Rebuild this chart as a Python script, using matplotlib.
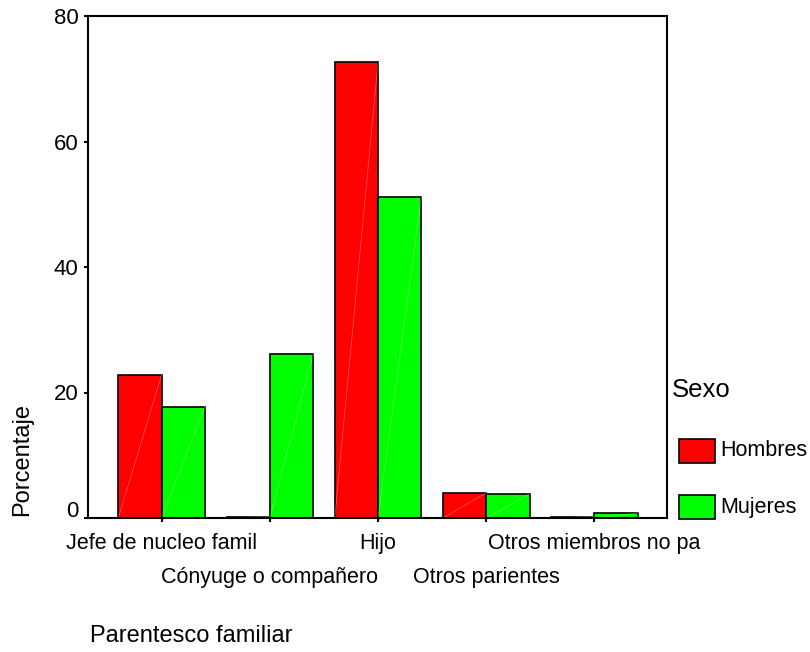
import numpy as np
import matplotlib
matplotlib.use("Agg")
import matplotlib.pyplot as plt
import matplotlib.transforms as mtransforms
from matplotlib.patches import Rectangle

plt.rcParams['font.family'] = ['Liberation Sans', 'DejaVu Sans']

# data
categorias = ["Jefe de nucleo famil", "Cónyuge o compañero", "Hijo",
              "Otros parientes", "Otros miembros no pa"]
hombres = [22.8, 0.2, 72.6, 4.0, 0.2]
mujeres = [17.7, 26.1, 51.2, 3.8, 0.8]
series = ["Hombres", "Mujeres"]
colores = ["#ff0000", "#00ff00"]
yticks = [0, 20, 40, 60, 80]

W, H = 810, 652
fig = plt.figure(figsize=(W / 100, H / 100), dpi=100)
ax = fig.add_axes([88 / W, (H - 518) / H, 579 / W, 502 / H])

x = np.arange(len(categorias))
ancho = 0.4
for i, (vals, col) in enumerate(zip([hombres, mujeres], colores)):
    b = ax.bar(x - ancho / 2 + i * ancho, vals, width=ancho, color=col,
               edgecolor='black', linewidth=1.2, label=series[i])
    # faint diagonal seam seen in the original bars
    for r in b:
        x0, y0 = r.get_x(), r.get_y()
        ax.plot([x0, x0 + r.get_width()], [y0, y0 + r.get_height()],
                color='white', alpha=0.3, linewidth=0.6)

ax.set_xlim(-0.68, 4.67)
ax.set_ylim(0, 80)
ax.set_yticks(yticks)
ax.set_yticklabels([str(v) for v in yticks], fontsize=16)
ax.set_xticks(x)
ax.set_xticklabels(categorias, fontsize=15.5)
for i, t in enumerate(ax.xaxis.get_major_ticks()):
    t.set_pad(8 if i % 2 == 0 else 32)
ax.tick_params(axis='both', direction='out', length=3, width=1.5, colors='black')
ax.tick_params(axis='y', pad=4)
for s in ax.spines.values():
    s.set_linewidth(1.5)
    s.set_color('black')

# the "0" label sits a little above its tick in the original
fig.canvas.draw()
lbl0 = ax.get_yticklabels()[0]
lbl0.set_transform(lbl0.get_transform() +
                   mtransforms.ScaledTranslation(0, 9 / 100, fig.dpi_scale_trans))

fig.text(22 / W, 1 - 460 / H, "Porcentaje", rotation=90, ha='center', va='center', fontsize=17)
fig.text(90 / W, 1 - 636 / H, "Parentesco familiar", ha='left', va='center', fontsize=17)

# legend
fig.text(672 / W, 1 - 390 / H, "Sexo", ha='left', va='center', fontsize=18.5)
for j, (nombre, col) in enumerate(zip(series, colores)):
    yc = 451 + j * 56
    fig.add_artist(Rectangle((679 / W, 1 - (yc + 12) / H), 36 / W, 24 / H,
                             facecolor=col, edgecolor='black', linewidth=1.2,
                             transform=fig.transFigure))
    fig.text(720 / W, 1 - yc / H, nombre, ha='left', va='center', fontsize=15.5)

fig.savefig("out.png", dpi=100)
